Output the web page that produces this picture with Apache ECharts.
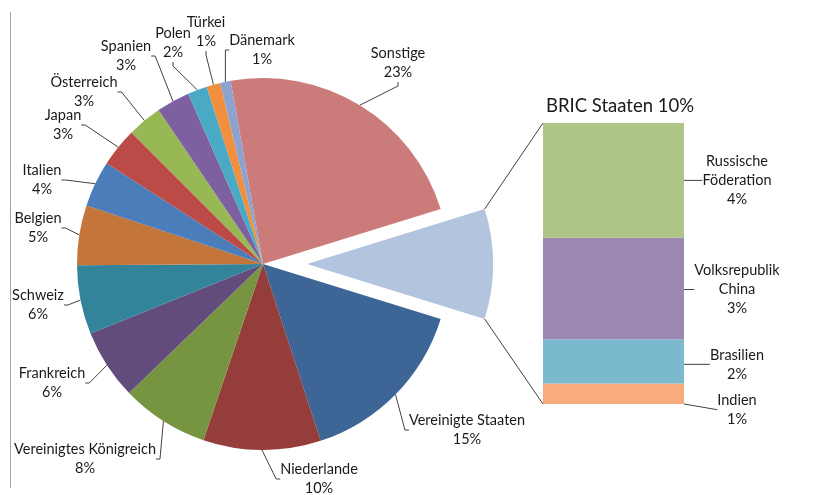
<!DOCTYPE html>
<html>
<head>
<meta charset="utf-8">
<script src="https://cdn.jsdelivr.net/npm/echarts@6/dist/echarts.min.js"></script>
<style>html,body{margin:0;padding:0;background:#fff}#c{width:839px;height:495px}</style>
</head>
<body>
<div id="c"></div>
<script>
// ---- data ----
const countryNames = ['Sonstige','Vereinigte Staaten','Niederlande','Vereinigtes Königreich','Frankreich','Schweiz','Belgien','Italien','Japan','Österreich','Spanien','Polen','Türkei','Dänemark'];
const countryValues = [23, 15.2, 10.2, 7.6, 6.1, 6.0, 5.2, 4.0, 3.4, 3.0, 2.9, 1.7, 1.2, 0.9];
const countryColors = ['#CB7C7A','#3D6596','#943D3B','#779441','#614C7C','#33849B','#C3753A','#4A7DBA','#BC4B48','#97B854','#7D60A0','#4AA9C4','#F0903F','#8CA3CF'];
const bricGroupName = 'BRIC Staaten';
const bricSliceColor = '#B3C4DF';
const bricNames = ['Russische Föderation','Volksrepublik China','Brasilien','Indien'];
const bricValues = [3.9, 3.45, 1.5, 0.7];
const bricColors = ['#ADC586','#9C88B3','#7BB9CF','#F8AB7B'];

// ---- layout (pixels) ----
const FONT = 'Lato';
const FS = 14.5;
const TXT = '#1a1a1a';
const cx = 263, cy = 264, R = 186, explode = 44;
const barLeft = 543, barTop = 123, barWidth = 141, barHeight = 281;
// label centres, in the order of countryNames
const countryLabelPos = [[398,63],[467,430],[319,479],[85,459],[52,383],[38,305],[38,228],[42,180],[63,125],[84,92],[126,56],[173,43],[206,32],[262,50]];
const bricLabelDx = 53;
const bricLabelDy = [0, 1, 3, 16];
const titlePos = [620, 106];

const bricTotal = bricValues.reduce((a,b)=>a+b,0);
const total = countryValues.reduce((a,b)=>a+b,0) + bricTotal;

// pie data: Sonstige, BRIC, rest
const pieData = [];
const pieLabelPos = [];
countryNames.forEach((n,i)=>{
  pieData.push({name:n, value:countryValues[i], itemStyle:{color:countryColors[i]}});
  pieLabelPos.push(countryLabelPos[i]);
  if (i === 0) {
    pieData.push({name:bricGroupName, value:bricTotal, selected:true,
      itemStyle:{color:bricSliceColor}, label:{show:false}, labelLine:{show:false}});
    pieLabelPos.push(null);
  }
});
const startAngle = (bricTotal/2 + countryValues[0]) / total * 360;

const chart = echarts.init(document.getElementById('c'), null, {renderer:'canvas'});

const barSeries = [];
for (let i = bricNames.length - 1; i >= 0; i--) {
  barSeries.push({
    type:'bar', name:bricNames[i], stack:'bric', barWidth:'100%',
    data:[bricValues[i]], silent:true, animation:false,
    itemStyle:{color:bricColors[i], borderWidth:0},
    emphasis:{disabled:true},
    label:{show:true, position:'right', color:TXT, fontFamily:FONT, fontSize:FS, lineHeight:19, align:'center',
      formatter:(p)=>p.seriesName.replace(' ','\n') + '\n' + Math.round(p.value) + '%'},
    labelLine:{show:true, lineStyle:{color:'#404040', width:1}},
    labelLayout:((k)=>(p)=>({x:p.rect.x + p.rect.width + bricLabelDx, y:p.rect.y + p.rect.height/2 + bricLabelDy[k], align:'center', verticalAlign:'middle'}))(i)
  });
}

chart.setOption({
  animation:false,
  grid:{left:barLeft, top:barTop, width:barWidth, height:barHeight},
  xAxis:{type:'category', data:['BRIC'], show:false},
  yAxis:{type:'value', min:0, max:bricTotal, show:false},
  series:[{
    type:'pie', center:[cx,cy], radius:[0,R], startAngle:startAngle, clockwise:true,
    selectedMode:'single', selectedOffset:explode, silent:true, animation:false,
    avoidLabelOverlap:false,
    emphasis:{disabled:true},
    itemStyle:{borderWidth:0},
    label:{show:true, color:TXT, fontFamily:FONT, fontSize:FS, lineHeight:19, align:'center',
      formatter:(p)=>p.name + '\n' + Math.round(p.value) + '%'},
    labelLine:{show:true, length:8, length2:4, lineStyle:{color:'#404040', width:1}},
    labelLayout:(p)=>{
      const pos = pieLabelPos[p.dataIndex];
      if (!pos) return {};
      return {x:pos[0], y:pos[1], align:'center', verticalAlign:'middle'};
    },
    data:pieData
  }].concat(barSeries)
});

// connectors from the exploded slice to the bar
const half = bricTotal / 2 / total * 2 * Math.PI;
const ex = cx + explode;
const topPt = chart.convertToPixel({gridIndex:0}, ['BRIC', bricTotal]);
const botPt = chart.convertToPixel({gridIndex:0}, ['BRIC', 0]);
chart.setOption({
  graphic:[
    {type:'line', shape:{x1:ex + R*Math.cos(half), y1:cy - R*Math.sin(half), x2:barLeft, y2:topPt[1]}, style:{stroke:'#404040', lineWidth:1}, silent:true},
    {type:'line', shape:{x1:ex + R*Math.cos(half), y1:cy + R*Math.sin(half), x2:barLeft, y2:botPt[1]}, style:{stroke:'#404040', lineWidth:1}, silent:true},
    {type:'line', shape:{x1:10.5, y1:12, x2:10.5, y2:488}, style:{stroke:'#a6a6a6', lineWidth:1}, silent:true},
    {type:'text', x:titlePos[0], y:titlePos[1], silent:true,
      style:{text:bricGroupName + ' ' + Math.round(bricTotal) + '%', fontFamily:FONT, fontSize:18.5, fill:TXT, align:'center', verticalAlign:'middle'}}
  ]
});
</script>
</body>
</html>
